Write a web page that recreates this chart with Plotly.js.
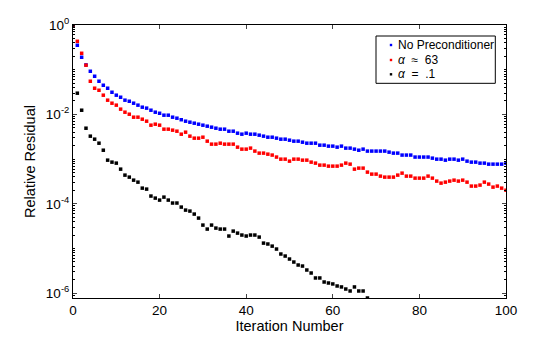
<!DOCTYPE html>
<html><head><meta charset="utf-8">
<script src="https://cdn.plot.ly/plotly-3.0.1.min.js"></script>
<style>html,body{margin:0;padding:0;background:#fff;}#chart{width:560px;height:337px;}</style>
</head><body><div id="chart"></div>
<script>
// Iteration numbers
const itersBlue = Array.from({length:101},(_, i)=>i);
const itersRed = Array.from({length:101},(_, i)=>i);
const itersBlack = Array.from({length:69},(_, i)=>i);

// No Preconditioner
const resNoPrec = [1,0.352,0.190,0.128,0.0923,0.0714,0.0552,0.0449,0.0385,0.0313,
0.0269,0.0242,0.0208,0.0197,0.0178,0.0161,0.0145,0.0138,0.0124,0.0112,
0.0106,0.00960,0.00960,0.00866,0.00822,0.0076,0.00705,0.00669,0.00636,0.00604,
0.00574,0.00545,0.00518,0.00491,0.00467,0.00467,0.00421,0.00421,0.00380,0.00361,
0.00380,0.00361,0.00361,0.00343,0.00326,0.00309,0.00309,0.00294,0.00279,0.00279,
0.00265,0.00252,0.00252,0.00239,0.00227,0.00227,0.00227,0.00205,0.00205,0.00195,
0.00195,0.00185,0.00195,0.00176,0.00176,0.00167,0.00158,0.00167,0.00151,0.00151,
0.00151,0.00151,0.00151,0.00143,0.00136,0.00136,0.00123,0.00123,0.00123,0.00111,
0.00111,0.00111,0.00111,0.00105,0.000997,0.000997,0.000947,0.000997,0.000997,0.000947,
0.000997,0.000900,0.000855,0.000855,0.000812,0.000812,0.000771,0.000771,0.000771,0.000771,
0.000812];

// alpha ~ 63
const resAlpha63 = [1,0.432,0.233,0.126,0.0552,0.0385,0.0347,0.0269,0.0208,0.0178,
0.0161,0.0131,0.0112,0.0101,0.00866,0.00866,0.00781,0.00705,0.00574,0.00604,
0.00574,0.00467,0.00467,0.00444,0.00421,0.00361,0.00400,0.00326,0.00294,0.00294,
0.00309,0.00252,0.00216,0.00216,0.00227,0.00216,0.00216,0.00216,0.00185,0.00167,
0.00167,0.00176,0.00151,0.00136,0.00136,0.00129,0.00123,0.00111,0.000997,0.000997,
0.000900,0.000997,0.000997,0.000947,0.000947,0.000855,0.000812,0.000733,0.000733,0.000696,
0.000696,0.000696,0.000733,0.000812,0.000771,0.000596,0.000628,0.000628,0.000511,0.000461,
0.000461,0.000416,0.000395,0.000395,0.000395,0.000438,0.000485,0.000416,0.000416,0.000375,
0.000375,0.000375,0.000416,0.000375,0.000322,0.000290,0.000305,0.000322,0.000338,0.000322,
0.000338,0.000305,0.000249,0.000249,0.000262,0.000305,0.000276,0.000236,0.000249,0.000224,
0.000202];

// alpha = .1
const resAlpha01 = [1,0.0298,0.0124,0.00491,0.00326,0.00279,0.00227,0.00158,0.000947,0.000855,
0.000812,0.000596,0.000438,0.000395,0.000338,0.000305,0.000224,0.000213,0.000149,0.000134,
0.000121,0.000141,0.000121,0.000104,0.000104,8.44e-5,7.23e-5,6.87e-5,5.89e-5,4.79e-5,
3.34e-5,2.72e-5,3.34e-5,2.86e-5,2.72e-5,2.72e-5,1.90e-5,2.45e-5,2.21e-5,2.00e-5,
1.90e-5,2.00e-5,2.00e-5,1.80e-5,1.32e-5,1.26e-5,1.13e-5,9.72e-6,7.52e-6,6.78e-6,
5.81e-6,4.98e-6,4.27e-6,4.05e-6,3.30e-6,2.83e-6,2.19e-6,2.19e-6,1.78e-6,1.69e-6,
1.61e-6,1.45e-6,1.38e-6,1.24e-6,1.12e-6,1.38e-6,1.12e-6,1.12e-6,7.81e-7];

const seriesNames = ['No Preconditioner', '<i>α</i>\u00a0\u00a0≈\u00a0\u00a063', '<i>α</i>\u00a0\u00a0=\u00a0\u00a0.1'];
const seriesColors = ['#0000ff', '#ff0000', '#000000'];
const xTickVals = [0,20,40,60,80,100];
const yTickVals = [1e-6,1e-4,1e-2,1];
const yTickText = ['10<sup>-6</sup>','10<sup>-4</sup>','10<sup>-2</sup>','10<sup>0</sup>'];

const minorVals = [];
for (let e=-7; e<=0; e++) for (let d=2; d<=9; d++) minorVals.push(d*Math.pow(10,e));
for (let e=-5; e<=-1; e+=2) minorVals.push(Math.pow(10,e));

const mk = (c)=>({symbol:'square', size:3.5, color:c, line:{width:0}});
const data = [
  {x: itersBlue, y: resNoPrec, type:'scatter', mode:'markers', name: seriesNames[0], marker: mk(seriesColors[0])},
  {x: itersRed, y: resAlpha63, type:'scatter', mode:'markers', name: seriesNames[1], marker: mk(seriesColors[1])},
  {x: itersBlack, y: resAlpha01, type:'scatter', mode:'markers', name: seriesNames[2], marker: mk(seriesColors[2])}
];

// Legend box (drawn manually to match compact MATLAB legend)
const legX0 = 0.6998, legX1 = 0.9753, legY0 = 0.7864, legY1 = 0.9597;
const legMarkX = 0.7344, legTextX = 0.746;
const legRows = [0.9267, 0.8718, 0.8194];
const shapes = [{type:'rect', xref:'paper', yref:'paper', x0:legX0, x1:legX1, y0:legY0, y1:legY1,
                 line:{color:'#000', width:1}, fillcolor:'#fff', layer:'above'}];
const annotations = [];
legRows.forEach((ry, i) => {
  shapes.push({type:'rect', xref:'paper', yref:'paper', xsizemode:'pixel', ysizemode:'pixel',
               xanchor:legMarkX, yanchor:ry, x0:-1.2, x1:1.2, y0:-1.2, y1:1.2,
               line:{width:0}, fillcolor:seriesColors[i], layer:'above'});
  annotations.push({xref:'paper', yref:'paper', x:legTextX, y:ry, xanchor:'left', yanchor:'middle',
                    text:seriesNames[i], showarrow:false, font:{size:12}});
});

const fontFam = 'Liberation Sans, Arial, Helvetica, sans-serif';
const layout = {
  width:560, height:337,
  margin:{l:73, r:54, t:25, b:39},
  paper_bgcolor:'#fff', plot_bgcolor:'#fff',
  font:{family:fontFam, size:13, color:'#000'},
  showlegend:false,
  shapes: shapes,
  annotations: annotations,
  xaxis:{range:[0,100], tickmode:'array', tickvals:xTickVals, ticks:'inside', ticklen:4,
         showline:true, linecolor:'#000', linewidth:1, mirror:'allticks', showgrid:false, zeroline:false,
         tickfont:{size:13.5}, title:{text:'Iteration Number', font:{size:14.5}, standoff:3}},
  yaxis:{type:'log', range:[Math.log10(7.81e-7), 0], tickmode:'array', tickvals:yTickVals, ticktext:yTickText,
         ticks:'inside', ticklen:4, showline:true, linecolor:'#000', linewidth:1, mirror:'allticks',
         showgrid:false, zeroline:false, tickfont:{size:13.5},
         minor:{tickmode:'array', tickvals:minorVals, ticks:'inside', ticklen:2, tickcolor:'#000', showgrid:false},
         title:{text:'Relative Residual', font:{size:14.5}, standoff:6}}
};
Plotly.newPlot('chart', data, layout, {displayModeBar:false, staticPlot:true});
</script></body></html>
